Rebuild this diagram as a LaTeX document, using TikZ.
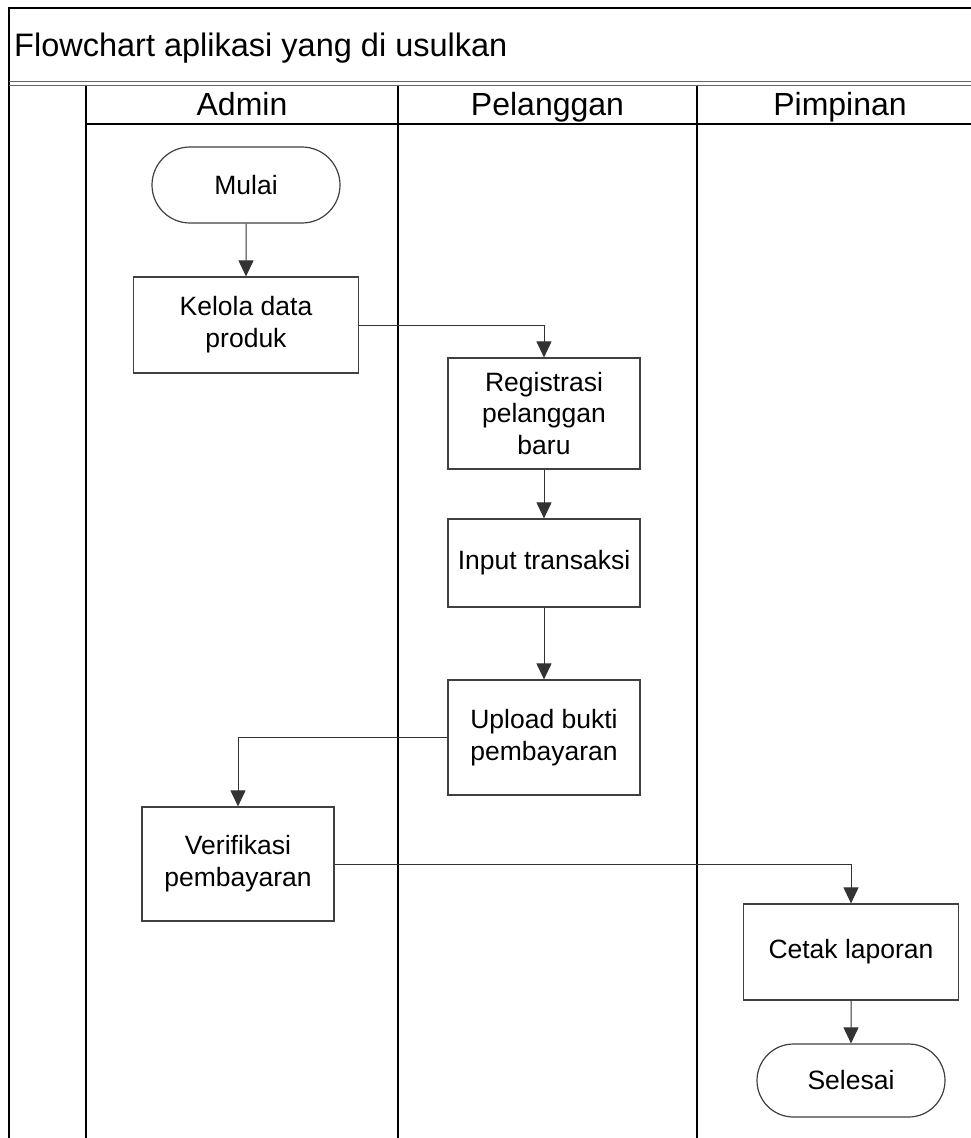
\documentclass[tikz,border=0pt]{standalone}
\usepackage{fontspec}
\setmainfont{Liberation Sans}
\usetikzlibrary{arrows.meta,shapes.misc}
\newcommand\bdyfont{\fontsize{26.5}{31.8}\selectfont}
\newcommand\ttlfont{\fontsize{32.5}{39}\selectfont}
\newcommand\hdrfont{\fontsize{32}{38}\selectfont}
\begin{document}
\begin{tikzpicture}[x=1pt,y=-1pt,
  lane/.style={line width=1.3pt, draw=black},
  dbl/.style={line width=1.2pt, draw=black!60},
  proc/.style={draw=black!75, line width=1.2pt, minimum width=192pt, align=center, inner sep=2pt, font=\bdyfont},
  term/.style={draw=black!75, line width=1.2pt, rounded rectangle, minimum width=192pt, minimum height=76pt, inner sep=2pt, font=\bdyfont},
  flow/.style={draw=black!80, line width=1pt, -{Triangle[length=16pt,width=15pt]}}
]
\useasboundingbox (0,0) rectangle (971,1138);
\fill[white] (0,0) rectangle (971,1138);
% frame and header
\draw[lane] (9,1138) -- (9,8) -- (971,8);
\draw[dbl] (9,81.5) -- (971,81.5);
\draw[dbl] (9,85.5) -- (971,85.5);
\draw[lane] (86,124) -- (971,124);
\draw[lane] (86,86) -- (86,1138);
\draw[lane] (398,86) -- (398,1138);
\draw[lane] (697,86) -- (697,1138);
\node[anchor=base west, font=\ttlfont, inner sep=0pt] (title) at (14,56) {Flowchart aplikasi yang di usulkan};
\node[anchor=base, font=\hdrfont, inner sep=0pt] (hadmin) at (242,115.5) {Admin};
\node[anchor=base, font=\hdrfont, inner sep=0pt] (hpel) at (547.5,115.5) {Pelanggan};
\node[anchor=base, font=\hdrfont, inner sep=0pt] (hpim) at (840,115.5) {Pimpinan};
% nodes
\node[term] (mulai) at (246,185) {Mulai};
\node[proc, minimum width=225pt, minimum height=96pt] (kelola) at (246,325) {Kelola data\\produk};
\node[proc, minimum height=111pt] (reg) at (544,413.5) {Registrasi\\pelanggan\\baru};
\node[proc, minimum height=88pt] (input) at (544,563) {Input transaksi};
\node[proc, minimum height=115pt] (upload) at (544,737.5) {Upload bukti\\pembayaran};
\node[proc, minimum height=114pt] (verif) at (238,864) {Verifikasi\\pembayaran};
\node[proc, minimum width=215pt, minimum height=96pt] (cetak) at (851,952) {Cetak laporan};
\node[term, minimum height=73pt] (selesai) at (851,1080.5) {Selesai};
% connectors
\draw[flow] (mulai) -- (kelola);
\draw[flow] (kelola.east) -| (reg.north);
\draw[flow] (reg) -- (input);
\draw[flow] (input) -- (upload);
\draw[flow] (upload.west) -| (verif.north);
\draw[flow] (verif.east) -| (cetak.north);
\draw[flow] (cetak) -- (selesai);
\end{tikzpicture}
\end{document}
